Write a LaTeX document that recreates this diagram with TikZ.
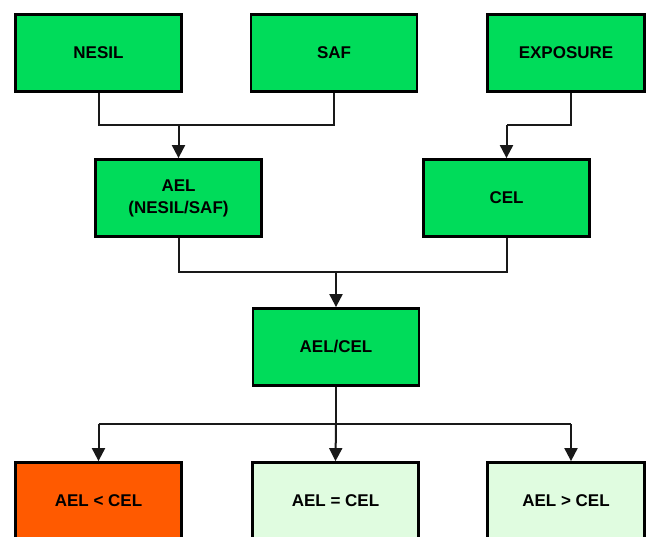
\documentclass[tikz,border=0pt]{standalone}
\usepackage{fontspec}
\setmainfont{Liberation Sans}
\usetikzlibrary{arrows.meta,calc}
\definecolor{boxgreen}{HTML}{00DC5A}
\definecolor{boxorange}{HTML}{FF5A00}
\definecolor{boxpale}{HTML}{E0FCE0}
\begin{document}
\begin{tikzpicture}[x=1pt,y=-1pt,
  box/.style={draw=black, line width=2.8pt, fill=boxgreen, minimum width=166pt, minimum height=77pt,
    inner sep=0pt, align=center, font=\fontsize{17}{22}\selectfont\bfseries},
  conn/.style={draw=black!90, line width=2pt},
  arr/.style={conn, -{Triangle[width=13pt,length=13pt]}}]
\useasboundingbox (0,0) rectangle (647,536);
\clip (0,0) rectangle (647,536);
\fill[white] (0,0) rectangle (647,536);
% top row
\node[box] (nesil) at (98.5,53) {NESIL};
\node[box] (saf) at (334,53) {SAF};
\node[box, minimum width=157pt] (expo) at (566,53) {EXPOSURE};
% second row
\node[box] (ael) at (178.5,198) {AEL\\(NESIL/SAF)};
\node[box] (cel) at (506.5,198) {CEL};
% third
\node[box] (ratio) at (336,347) {AEL/CEL};
% bottom
\node[box, fill=boxorange] (lt) at (98.5,501) {AEL < CEL};
\node[box, fill=boxpale] (eq) at (335.5,501) {AEL = CEL};
\node[box, fill=boxpale, minimum width=157pt] (gt) at (566,501) {AEL > CEL};
% connectors
\coordinate (j1) at (178.5,125);
\coordinate (j2) at (506.5,125);
\coordinate (j3) at (336,272);
\coordinate (j4) at (336,424);
\draw[conn] (nesil.south) |- (saf.south |- j1) -- (saf.south);
\draw[arr] (j1) -- (ael.north);
\draw[conn] ($(expo.south)+(5,0)$) |- (j2);
\draw[arr] (j2) -- (cel.north);
\draw[conn] (ael.south) |- (cel.south |- j3) -- (cel.south);
\draw[arr] (j3) -- (ratio.north);
\draw[conn] (ratio.south) -- (j4);
\draw[conn] (lt.north |- j4) -- ($(gt.north |- j4)+(5,0)$);
\draw[arr] (j4) -- (eq.north);
\draw[arr] (lt.north |- j4) -- (lt.north);
\draw[arr] ($(gt.north |- j4)+(5,0)$) -- ($(gt.north)+(5,0)$);
\end{tikzpicture}
\end{document}
